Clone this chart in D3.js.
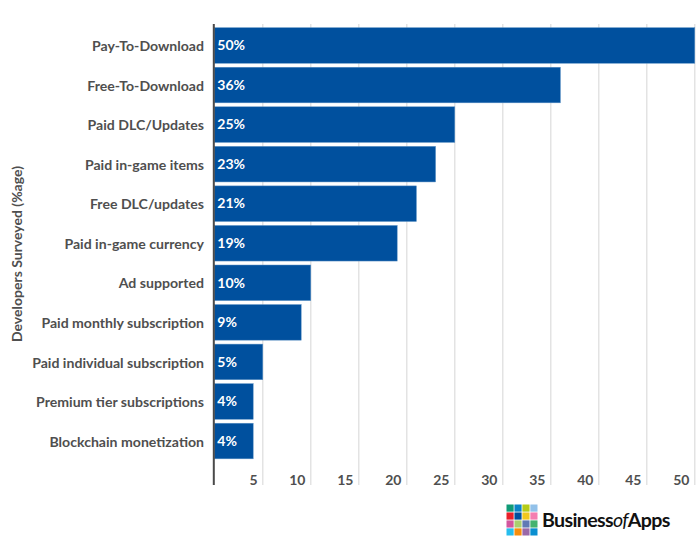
<!DOCTYPE html>
<html>
<head>
<meta charset="utf-8">
<script src="https://cdn.jsdelivr.net/npm/d3@7"></script>
<style>
  body { margin: 0; background: #fff; }
  svg { display: block; }
  svg text { font-family: Lato, sans-serif; }
  .grid line { stroke: #dcdcdc; stroke-width: 1.2; }
  .grid path { display: none; }
  .xaxis path, .xaxis line { display: none; }
  .xaxis text { font-size: 14px; font-weight: 700; fill: #4f4f4f; text-anchor: end; }
  .yaxis path, .yaxis line { display: none; }
  .yaxis text { font-size: 14.1px; font-weight: 700; fill: #4f4f4f; }
</style>
</head>
<body>
<div id="chart"></div>
<script>
const categories = ['Pay-To-Download', 'Free-To-Download', 'Paid DLC/Updates', 'Paid in-game items',
  'Free DLC/updates', 'Paid in-game currency', 'Ad supported', 'Paid monthly subscription',
  'Paid individual subscription', 'Premium tier subscriptions', 'Blockchain monetization'];
const values = [50, 36, 25, 23, 21, 19, 10, 9, 5, 4, 4];
const xTicks = [5, 10, 15, 20, 25, 30, 35, 40, 45, 50];
const logoColors = ['#109b77', '#0a84c8', '#b5cc18', '#92c1e9',
  '#e8202a', '#00509e', '#f2c81e', '#f47eb0',
  '#d2569e', '#a9cf6e', '#6079b5', '#45b36f',
  '#27bdee', '#f78e0c', '#9a68a8', '#0a8fd0'];

const width = 700, height = 550;
const svg = d3.select('#chart').append('svg').attr('width', width).attr('height', height);

const x = d3.scaleLinear().domain([0, 50]).range([214.3, 694.3]);
const y = d3.scaleBand().domain(categories).range([25.7, 460.8]).paddingInner(0.1).paddingOuter(0.05);

// gridlines first, bars sit on top of them
svg.append('g').attr('class', 'grid')
  .attr('transform', 'translate(0,485)')
  .call(d3.axisBottom(x).tickValues(xTicks).tickSize(-461).tickFormat(''));

svg.append('g').selectAll('rect').data(values).join('rect')
  .attr('x', x(0))
  .attr('y', (d, i) => y(categories[i]))
  .attr('width', d => x(d) - x(0) + 0.5)
  .attr('height', y.bandwidth())
  .attr('fill', '#00509e')
  .attr('stroke', '#5f93c6')
  .attr('stroke-width', 0.5);

svg.append('g').selectAll('text').data(values).join('text')
  .attr('x', x(0) + 3)
  .attr('y', (d, i) => y(categories[i]) + y.bandwidth() / 2)
  .attr('dy', '0.34em')
  .attr('fill', '#fff')
  .style('font-size', '14px')
  .style('font-weight', 700)
  .text(d => d + '%');

svg.append('g').attr('class', 'xaxis')
  .attr('transform', 'translate(-5.3,466)')
  .call(d3.axisBottom(x).tickValues(xTicks).tickFormat(d => d));

svg.append('g').attr('class', 'yaxis')
  .attr('transform', 'translate(213,1.1)')
  .call(d3.axisLeft(y));

// axis line
svg.append('line')
  .attr('x1', x(0) - 0.5).attr('x2', x(0) - 0.5)
  .attr('y1', 24).attr('y2', 485)
  .attr('stroke', '#4a4a4a').attr('stroke-width', 2);

svg.append('text')
  .attr('transform', 'translate(22,254) rotate(-90)')
  .attr('text-anchor', 'middle')
  .attr('fill', '#4f4f4f')
  .style('font-size', '14px')
  .style('font-weight', 700)
  .text('Developers Surveyed (%age)');

// logo
const logoX = d3.scaleBand().domain(d3.range(4)).range([506.5, 537.5]).paddingInner(0.1);
const logoY = d3.scaleBand().domain(d3.range(4)).range([504.5, 535.5]).paddingInner(0.1);
svg.append('g').selectAll('rect').data(logoColors).join('rect')
  .attr('x', (d, i) => logoX(i % 4))
  .attr('y', (d, i) => logoY(Math.floor(i / 4)))
  .attr('width', logoX.bandwidth())
  .attr('height', logoY.bandwidth())
  .attr('fill', d => d);

const logoText = svg.append('text')
  .attr('x', 542).attr('y', 527)
  .attr('fill', '#111')
  .style('font-size', '19.6px')
  .style('font-weight', 700)
  .style('letter-spacing', '-0.65px');
logoText.append('tspan').text('Business');
logoText.append('tspan').style('font-style', 'italic').style('font-weight', 400).text('of');
logoText.append('tspan').text('Apps');
</script>
</body>
</html>
